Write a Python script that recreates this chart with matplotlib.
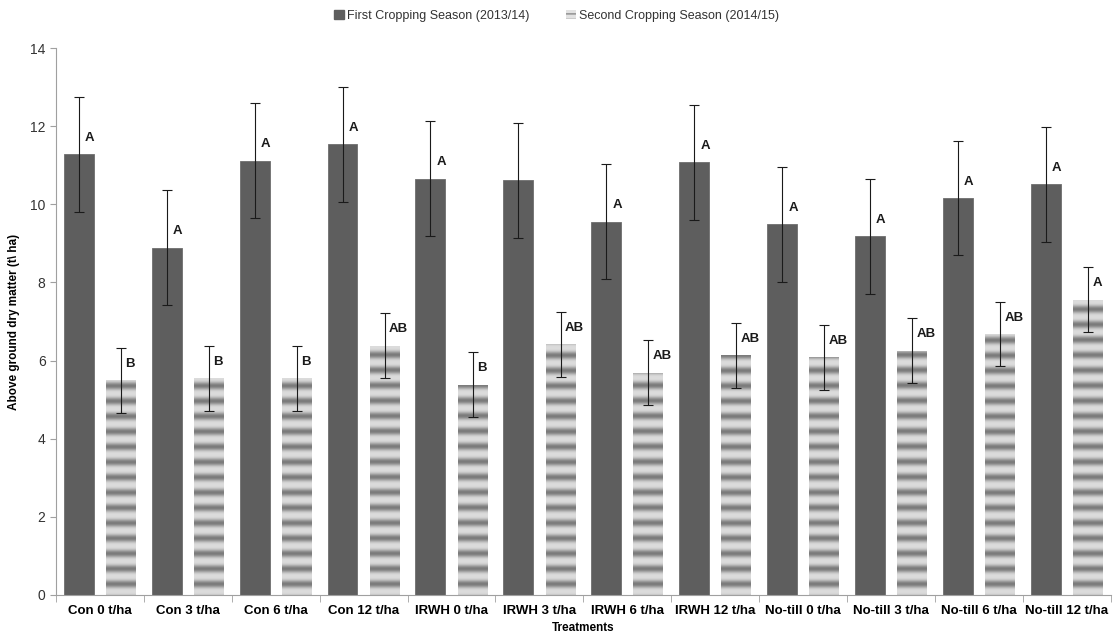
import numpy as np
import matplotlib.pyplot as plt
from matplotlib.patches import Patch

plt.rcParams['font.family'] = ['Liberation Sans', 'DejaVu Sans']

treatments = ['Con 0 t/ha', 'Con 3 t/ha', 'Con 6 t/ha', 'Con 12 t/ha',
              'IRWH 0 t/ha', 'IRWH 3 t/ha', 'IRWH 6 t/ha', 'IRWH 12 t/ha',
              'No-till 0 t/ha', 'No-till 3 t/ha', 'No-till 6 t/ha', 'No-till 12 t/ha']
season1 = [11.28, 8.89, 11.12, 11.54, 10.66, 10.61, 9.55, 11.07, 9.49, 9.18, 10.16, 10.51]
season1_err = [1.47, 1.47, 1.47, 1.47, 1.47, 1.47, 1.47, 1.47, 1.47, 1.47, 1.47, 1.47]
season2 = [5.50, 5.55, 5.55, 6.38, 5.38, 6.42, 5.69, 6.14, 6.08, 6.25, 6.68, 7.56]
season2_err = [0.83, 0.83, 0.83, 0.83, 0.83, 0.83, 0.83, 0.83, 0.83, 0.83, 0.83, 0.83]
letters1 = ['A', 'A', 'A', 'A', 'A', '', 'A', 'A', 'A', 'A', 'A', 'A']
letters2 = ['B', 'B', 'B', 'AB', 'B', 'AB', 'AB', 'AB', 'AB', 'AB', 'AB', 'A']

fig = plt.figure(figsize=(11.13, 6.35), dpi=100)
ax = fig.add_axes([0.0503, 0.063, 0.9477, 0.8614])

x = np.arange(len(treatments))
w = 0.34
off = 0.24
ymax = 14

b1 = ax.bar(x - off, season1, w, color='#5e5e5e', edgecolor='#6e6e6e', linewidth=0.6, zorder=2)
b2 = ax.bar(x + off, season2, w, color='none', linewidth=0, zorder=2)

# soft horizontal stripes for the second season bars
yy = np.linspace(0, ymax, 2800)
band = (1 + np.cos(2 * np.pi * (yy - 0.28) / 0.39)) / 2
shade = 0.86 - 0.38 * band ** 1.6
stripe = shade[::-1, None] * np.ones((1, 4))
for p in b2:
    im = ax.imshow(stripe, cmap='gray', vmin=0, vmax=1, aspect='auto',
                   extent=(p.get_x(), p.get_x() + p.get_width(), 0, ymax),
                   interpolation='bilinear', zorder=2)
    im.set_clip_path(p)

ax.errorbar(x - off, season1, yerr=season1_err, fmt='none', ecolor='#1a1a1a',
            elinewidth=0.8, capsize=3.5, capthick=0.8, zorder=3)
ax.errorbar(x + off, season2, yerr=season2_err, fmt='none', ecolor='#1a1a1a',
            elinewidth=0.8, capsize=3.5, capthick=0.8, zorder=3)

for i in range(len(x)):
    ax.text(x[i] - off + 0.07, season1[i] + 0.42, letters1[i], ha='left', va='center',
            fontsize=9.5, fontweight='bold', color='#1a1a1a', zorder=4)
    ax.text(x[i] + off + 0.05, season2[i] + 0.42, letters2[i], ha='left', va='center',
            fontsize=9.5, fontweight='bold', color='#1a1a1a', zorder=4)

ax.set_xlim(-0.5, len(x) - 0.5)
ax.set_ylim(0, ymax)
ax.set_yticks(range(0, 15, 2))
ax.set_xticks(x)
ax.set_xticklabels(treatments, fontsize=9.5, fontweight='bold')
ax.set_xticks(np.arange(-0.5, len(x), 1), minor=True)
ax.tick_params(axis='x', which='major', length=0, pad=7)
ax.tick_params(axis='x', which='minor', length=5, color='#a0a0a0', direction='out')
ax.tick_params(axis='y', length=4, color='#a0a0a0', labelsize=10, labelcolor='#333333')

for s in ['top', 'right']:
    ax.spines[s].set_visible(False)
for s in ['left', 'bottom']:
    ax.spines[s].set_color('#a0a0a0')
    ax.spines[s].set_linewidth(0.8)

ax.set_ylabel('Above ground dry matter (t\\ ha)', fontsize=8.5, fontweight='bold')
ax.yaxis.set_label_coords(-0.034, 0.5)
ax.set_xlabel('Treatments', fontsize=8.5, fontweight='bold')
ax.xaxis.set_label_coords(0.5, -0.05)

handles = [Patch(facecolor='#5e5e5e', edgecolor='#5e5e5e'),
           Patch(facecolor='#e2e2e2', edgecolor='#8a8a8a', hatch='---', linewidth=0)]
fig.legend(handles, ['First Cropping Season (2013/14)', 'Second Cropping Season (2014/15)'],
           loc='center', bbox_to_anchor=(0.5, 0.975), ncol=2, frameon=False,
           fontsize=9, handlelength=0.8, handleheight=0.8, handletextpad=0.2,
           columnspacing=3.0, labelcolor='#333333')

fig.savefig('out.png', dpi=100)
